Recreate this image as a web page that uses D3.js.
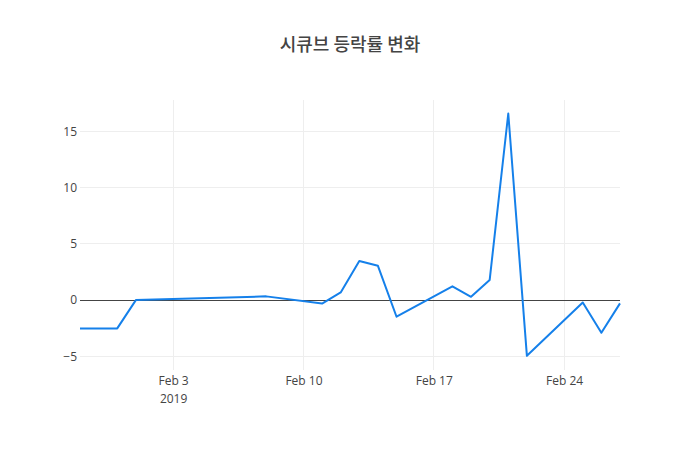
<!DOCTYPE html>
<html>
<head>
<meta charset="utf-8">
<script src="https://d3js.org/d3.v7.min.js"></script>
<style>
  body { margin: 0; background: #fff; }
  svg { font-family: "Open Sans", verdana, arial, "Noto Sans CJK KR", sans-serif; }
</style>
</head>
<body>
<div id="chart"></div>
<script>
// 시큐브 daily change rate (%)
const dates = [
  "2019-01-29", "2019-01-30", "2019-01-31", "2019-02-01", "2019-02-08",
  "2019-02-11", "2019-02-12", "2019-02-13", "2019-02-14", "2019-02-15",
  "2019-02-18", "2019-02-19", "2019-02-20", "2019-02-21", "2019-02-22",
  "2019-02-25", "2019-02-26", "2019-02-27"
];
const changes = [
  -2.52, -2.52, -2.52, 0.0, 0.33,
  -0.31, 0.68, 3.48, 3.05, -1.48,
  1.22, 0.29, 1.78, 16.6, -4.96,
  -0.21, -2.91, -0.29
];
const yTicks = [-5, 0, 5, 10, 15];
const xTicks = ["2019-02-03", "2019-02-10", "2019-02-17", "2019-02-24"];
const title = "시큐브 등락률 변화";

const width = 700, height = 450;
const margin = { top: 100, right: 80, bottom: 80, left: 80 };

const parse = d3.timeParse("%Y-%m-%d");
const data = dates.map((d, i) => ({ date: parse(d), value: changes[i] }));

const svg = d3.select("#chart").append("svg")
  .attr("width", width)
  .attr("height", height);

const x = d3.scaleTime()
  .domain(d3.extent(data, d => d.date))
  .range([margin.left, width - margin.right]);

const y = d3.scaleLinear()
  .domain([-6.22, 17.8])
  .range([height - margin.bottom, margin.top]);

// grid
svg.append("g")
  .attr("shape-rendering", "crispEdges")
  .selectAll("line")
  .data(xTicks.map(parse))
  .join("line")
  .attr("x1", d => x(d)).attr("x2", d => x(d))
  .attr("y1", margin.top).attr("y2", height - margin.bottom)
  .attr("stroke", "#eee").attr("stroke-width", 1);

svg.append("g")
  .attr("shape-rendering", "crispEdges")
  .selectAll("line")
  .data(yTicks.filter(t => t !== 0))
  .join("line")
  .attr("x1", margin.left).attr("x2", width - margin.right)
  .attr("y1", d => y(d)).attr("y2", d => y(d))
  .attr("stroke", "#eee").attr("stroke-width", 1);

// y axis labels
const yAxis = d3.axisLeft(y)
  .tickValues(yTicks)
  .tickSize(0)
  .tickPadding(3)
  .tickFormat(d => d < 0 ? "\u2212" + Math.abs(d) : d);

svg.append("g")
  .attr("transform", `translate(${margin.left},0)`)
  .call(yAxis)
  .call(g => g.select(".domain").remove())
  .selectAll("text")
  .attr("font-size", 12)
  .attr("fill", "#444")
  .attr("font-family", "\"Open Sans\", verdana, arial, sans-serif");

// x axis labels
const fmt = d3.timeFormat("%b %-d");
const xAxis = d3.axisBottom(x)
  .tickValues(xTicks.map(parse))
  .tickSize(0)
  .tickPadding(6)
  .tickFormat(fmt);

const xg = svg.append("g")
  .attr("transform", `translate(0,${height - margin.bottom})`)
  .call(xAxis)
  .call(g => g.select(".domain").remove());

xg.selectAll("text")
  .attr("font-size", 12)
  .attr("fill", "#444")
  .attr("font-family", "\"Open Sans\", verdana, arial, sans-serif");

xg.selectAll(".tick")
  .filter((d, i) => i === 0)
  .append("text")
  .attr("y", 24)
  .attr("dy", "0.71em")
  .attr("text-anchor", "middle")
  .attr("font-size", 12)
  .attr("fill", "#444")
  .attr("font-family", "\"Open Sans\", verdana, arial, sans-serif")
  .text(d => d3.timeFormat("%Y")(d));

// zero line
svg.append("line")
  .attr("shape-rendering", "crispEdges")
  .attr("x1", margin.left).attr("x2", width - margin.right)
  .attr("y1", y(0)).attr("y2", y(0))
  .attr("stroke", "#444").attr("stroke-width", 1);

// series
const line = d3.line()
  .x(d => x(d.date))
  .y(d => y(d.value));

svg.append("path")
  .datum(data)
  .attr("d", line)
  .attr("fill", "none")
  .attr("stroke", "#1580ea")
  .attr("stroke-width", 2)
  .attr("stroke-linejoin", "round");

// title
svg.append("text")
  .attr("x", width / 2)
  .attr("y", 51)
  .attr("text-anchor", "middle")
  .attr("font-size", 18)
  .attr("font-weight", 500)
  .attr("fill", "#444")
  .attr("font-family", "\"Noto Sans CJK KR\", \"Open Sans\", sans-serif")
  .text(title);
</script>
</body>
</html>
